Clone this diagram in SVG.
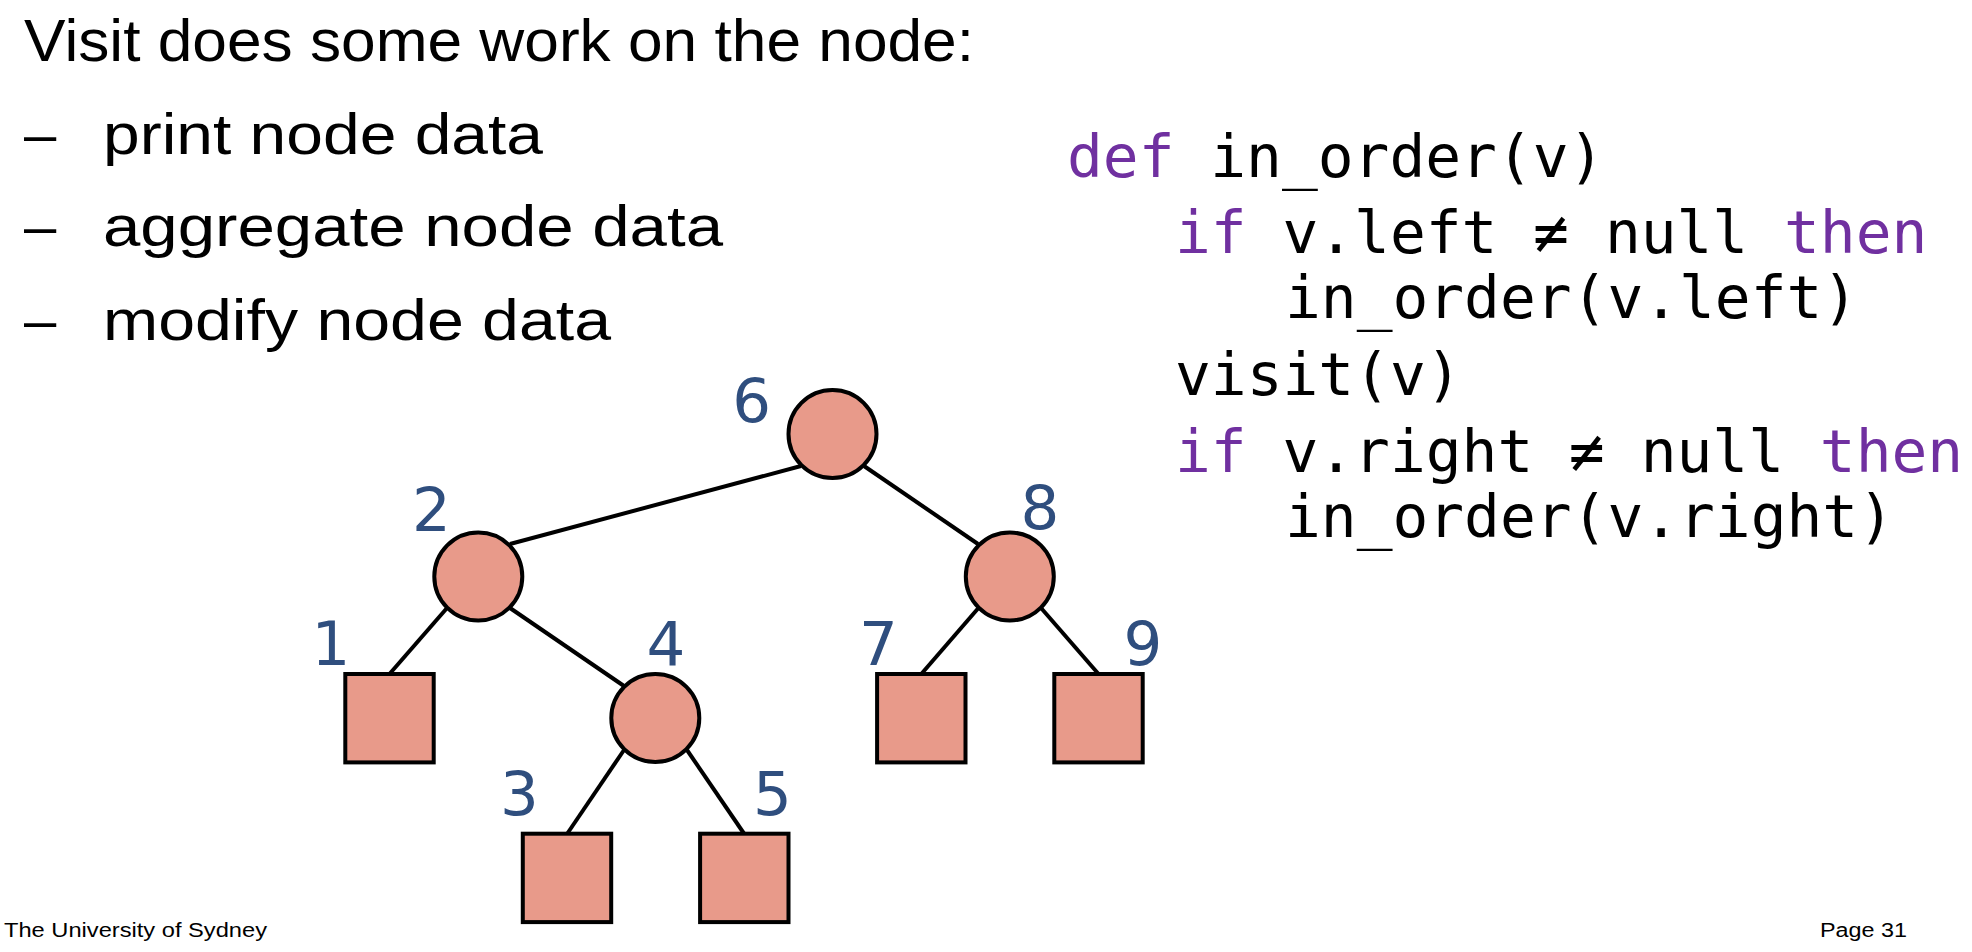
<svg xmlns="http://www.w3.org/2000/svg" width="1972" height="952" viewBox="0 0 1972 952">
<style>
.t{font-family:"Liberation Sans","Open Sans",sans-serif;fill:#000}
.code{font-family:"DejaVu Sans Mono","Liberation Mono",monospace;font-size:59.5px;fill:#000}
.kw{fill:#7030A0}
.lbl{font-family:"DejaVu Sans","Noto Sans",sans-serif;font-size:61px;fill:#2F4E7E;text-anchor:middle}
.n{fill:#E89A8A;stroke:#000;stroke-width:4}
.e{stroke:#000;stroke-width:4;fill:none}
</style>
<rect width="1972" height="952" fill="#fff"/>
<g id="text">
<text class="t" x="24" y="61" font-size="60" textLength="950" lengthAdjust="spacingAndGlyphs">Visit does some work on the node:</text>
<text class="t" x="24" y="154" font-size="58">–</text>
<text class="t" x="103" y="154" font-size="58" textLength="440" lengthAdjust="spacingAndGlyphs">print node data</text>
<text class="t" x="24" y="246" font-size="58">–</text>
<text class="t" x="103" y="246" font-size="58" textLength="620" lengthAdjust="spacingAndGlyphs">aggregate node data</text>
<text class="t" x="24" y="340" font-size="58">–</text>
<text class="t" x="103" y="340" font-size="58" textLength="508" lengthAdjust="spacingAndGlyphs">modify node data</text>
<text class="t" x="4" y="937" font-size="20" textLength="263" lengthAdjust="spacingAndGlyphs">The University of Sydney</text>
<text class="t" x="1820" y="937" font-size="20" textLength="87" lengthAdjust="spacingAndGlyphs">Page 31</text>
</g>
<g id="code">
<text class="code" x="1067" y="177"><tspan class="kw">def</tspan> in_order(v)</text>
<text class="code" x="1175" y="253"><tspan class="kw">if</tspan> v.left ≠ null <tspan class="kw">then</tspan></text>
<text class="code" x="1285" y="318">in_order(v.left)</text>
<text class="code" x="1175" y="395">visit(v)</text>
<text class="code" x="1175" y="472"><tspan class="kw">if</tspan> v.right ≠ null <tspan class="kw">then</tspan></text>
<text class="code" x="1285" y="537">in_order(v.right)</text>
</g>
<g id="edges">
<line class="e" x1="801" y1="466" x2="510" y2="544"/>
<line class="e" x1="864" y1="466" x2="978" y2="544"/>
<line class="e" x1="447" y1="608" x2="389.5" y2="674"/>
<line class="e" x1="510" y1="608" x2="624" y2="686"/>
<line class="e" x1="978" y1="608.5" x2="921.3" y2="674"/>
<line class="e" x1="1041.5" y1="608.5" x2="1098.5" y2="674"/>
<line class="e" x1="624" y1="750" x2="567" y2="834"/>
<line class="e" x1="687" y1="750" x2="744.3" y2="834"/>
</g>
<g id="node6"><circle class="n" cx="832.5" cy="434" r="44"/><text class="lbl" x="751.7" y="422">6</text></g>
<g id="node2"><circle class="n" cx="478.3" cy="576.5" r="44"/><text class="lbl" x="431.3" y="530.5">2</text></g>
<g id="node8"><circle class="n" cx="1009.8" cy="576.5" r="44"/><text class="lbl" x="1040" y="529">8</text></g>
<g id="node4"><circle class="n" cx="655.3" cy="718" r="44"/><text class="lbl" x="665.8" y="665">4</text></g>
<g id="node1"><rect class="n" x="345.3" y="674" width="88.4" height="88.4"/><text class="lbl" x="331" y="665">1</text></g>
<g id="node7"><rect class="n" x="877.1" y="674" width="88.4" height="88.4"/><text class="lbl" x="878.5" y="665">7</text></g>
<g id="node9"><rect class="n" x="1054.3" y="674" width="88.4" height="88.4"/><text class="lbl" x="1143" y="665">9</text></g>
<g id="node3"><rect class="n" x="522.8" y="833.7" width="88.4" height="88.4"/><text class="lbl" x="519.5" y="815">3</text></g>
<g id="node5"><rect class="n" x="700.1" y="833.7" width="88.4" height="88.4"/><text class="lbl" x="772.3" y="815">5</text></g>
</svg>
